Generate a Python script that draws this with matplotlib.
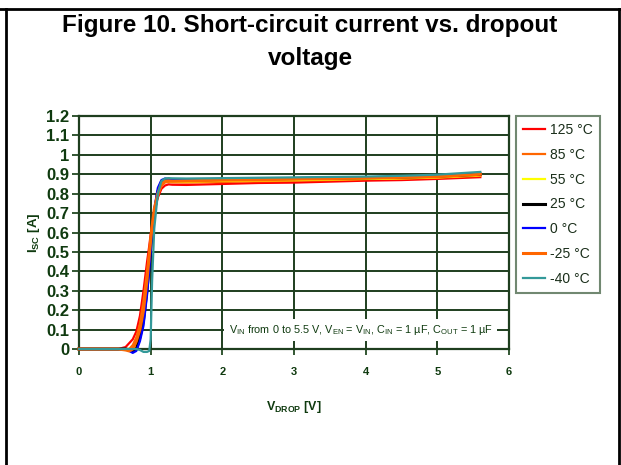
import matplotlib
matplotlib.use("Agg")
import matplotlib.pyplot as plt
from matplotlib.lines import Line2D

plt.rcParams['font.family'] = ['Liberation Sans', 'DejaVu Sans']
plt.rcParams['mathtext.fontset'] = 'custom'
plt.rcParams['mathtext.rm'] = 'Liberation Sans'
plt.rcParams['mathtext.bf'] = 'Liberation Sans:bold'

# V_DROP sample points (shared by all curves)
v_drop = [0, 0.55, 0.65, 0.7, 0.75, 0.8, 0.85, 0.9, 0.95, 0.98, 1.0, 1.02, 1.05, 1.1,
          1.15, 1.2, 1.25, 1.3, 1.5, 2.0, 2.5, 3.0, 3.5, 4.0, 4.5, 5.0, 5.6]

i_125 = [0, 0, 0.01, 0.03, 0.05, 0.09, 0.17, 0.3, 0.45, 0.53, 0.59, 0.64, 0.71, 0.78,
         0.825, 0.842, 0.848, 0.846, 0.845, 0.85, 0.855, 0.857, 0.862, 0.867, 0.87, 0.876, 0.885]
i_85 = [0, 0, 0, 0, 0.02, 0.06, 0.13, 0.25, 0.4, 0.5, 0.57, 0.63, 0.7, 0.79,
        0.84, 0.858, 0.86, 0.858, 0.857, 0.86, 0.864, 0.866, 0.87, 0.875, 0.878, 0.882, 0.892]
i_55 = [0, 0, 0, 0, -0.005, 0.03, 0.09, 0.2, 0.36, 0.47, 0.55, 0.62, 0.71, 0.8,
        0.855, 0.865, 0.865, 0.862, 0.862, 0.866, 0.868, 0.87, 0.873, 0.876, 0.879, 0.884, 0.895]
i_25 = [0, 0, 0, -0.005, -0.01, 0, 0.06, 0.15, 0.31, 0.43, 0.51, 0.6, 0.7, 0.81,
        0.86, 0.872, 0.872, 0.87, 0.87, 0.873, 0.876, 0.878, 0.88, 0.882, 0.885, 0.89, 0.9]
i_0 = [0, 0, 0, -0.01, -0.02, -0.01, 0.04, 0.12, 0.28, 0.41, 0.5, 0.6, 0.72, 0.83,
       0.87, 0.878, 0.876, 0.874, 0.873, 0.876, 0.878, 0.88, 0.882, 0.885, 0.887, 0.891, 0.9]
i_m25 = [0, 0, -0.005, -0.01, 0, 0.04, 0.1, 0.2, 0.36, 0.48, 0.56, 0.63, 0.72, 0.8,
         0.85, 0.865, 0.866, 0.864, 0.866, 0.87, 0.872, 0.875, 0.878, 0.881, 0.884, 0.888, 0.9]
i_m40 = [0, 0, 0, 0, 0, 0, -0.005, -0.015, -0.015, -0.01, 0.05, 0.35, 0.62, 0.8,
         0.865, 0.878, 0.88, 0.879, 0.878, 0.88, 0.882, 0.884, 0.886, 0.888, 0.892, 0.898, 0.912]

labels = ['125 °C', '85 °C', '55 °C', '25 °C', '0 °C', '-25 °C', '-40 °C']
series = [i_125, i_85, i_55, i_25, i_0, i_m25, i_m40]
colors = ['#ff0000', '#ff6600', '#ffff00', '#000000', '#0000ff', '#ff6600', '#339999']
widths = [1.6, 1.6, 1.6, 2.2, 1.6, 2.2, 1.6]

green = '#0f3a0f'
grid_col = '#1e3e1e'

fig = plt.figure(figsize=(6.21, 4.65), dpi=100)
ax = fig.add_axes([79 / 621, 1 - 349 / 465, 430 / 621, 233 / 465])

for y, c, lw, lab in zip(series, colors, widths, labels):
    ax.plot(v_drop, y, color=c, lw=lw, label=lab, clip_on=False, zorder=3)

ax.set_xlim(0, 6)
ax.set_ylim(0, 1.2)
ax.set_xticks(range(0, 7))
ax.set_yticks([i / 10 for i in range(13)])
ax.set_yticklabels(['0', '0.1', '0.2', '0.3', '0.4', '0.5', '0.6', '0.7', '0.8', '0.9', '1', '1.1', '1.2'])
ax.grid(True, color=grid_col, lw=1.4, zorder=1)
ax.set_axisbelow(True)
for s in ax.spines.values():
    s.set_color(grid_col)
    s.set_linewidth(1.6)
ax.tick_params(axis='y', labelsize=12, colors=green, length=5, width=1.2, pad=2)
ax.tick_params(axis='x', labelsize=8, colors=green, length=4, width=1.2, pad=9)
for t in ax.get_yticklabels() + ax.get_xticklabels():
    t.set_fontweight('bold')

ax.set_xlabel(r'V$_{\mathbf{DROP}}$ [V]', fontsize=9, fontweight='bold', color=green, labelpad=16)
ax.set_ylabel(r'I$_{\mathbf{SC}}$ [A]', fontsize=9.5, fontweight='bold', color=green, labelpad=3)

ax.text(3.93, 0.098,
        r'V$_{\mathrm{IN}}$ from 0 to 5.5 V, V$_{\mathrm{EN}}$ = V$_{\mathrm{IN}}$, '
        r'C$_{\mathrm{IN}}$ = 1 µF, C$_{\mathrm{OUT}}$ = 1 µF',
        fontsize=7.8, color=green, ha='center', va='center', zorder=4,
        bbox=dict(facecolor='white', edgecolor='none', pad=3))

leg = fig.legend(loc='upper left', bbox_to_anchor=(516 / 621, 1 - 116 / 465),
                 fontsize=10, frameon=True, fancybox=False, labelspacing=0.78,
                 handlelength=1.6, handletextpad=0.35, borderpad=0.5, borderaxespad=0)
leg.get_frame().set_edgecolor('#4d6b4d')
leg.get_frame().set_linewidth(1.5)
for t in leg.get_texts():
    t.set_color('#1a2e1a')

fig.text(310 / 621, 1 - 32 / 465, 'Figure 10. Short-circuit current vs. dropout',
         ha='center', va='baseline', fontsize=17.5, fontweight='bold')
fig.text(310 / 621, 1 - 65 / 465, 'voltage',
         ha='center', va='baseline', fontsize=17.5, fontweight='bold')

# page frame lines
fig.add_artist(Line2D([0, 1], [1 - 9 / 465, 1 - 9 / 465], color='black', lw=2))
fig.add_artist(Line2D([6 / 621, 6 / 621], [0, 1 - 9 / 465], color='black', lw=2))
fig.add_artist(Line2D([619 / 621, 619 / 621], [0, 1 - 9 / 465], color='black', lw=2))

fig.savefig('out.png', dpi=100)
